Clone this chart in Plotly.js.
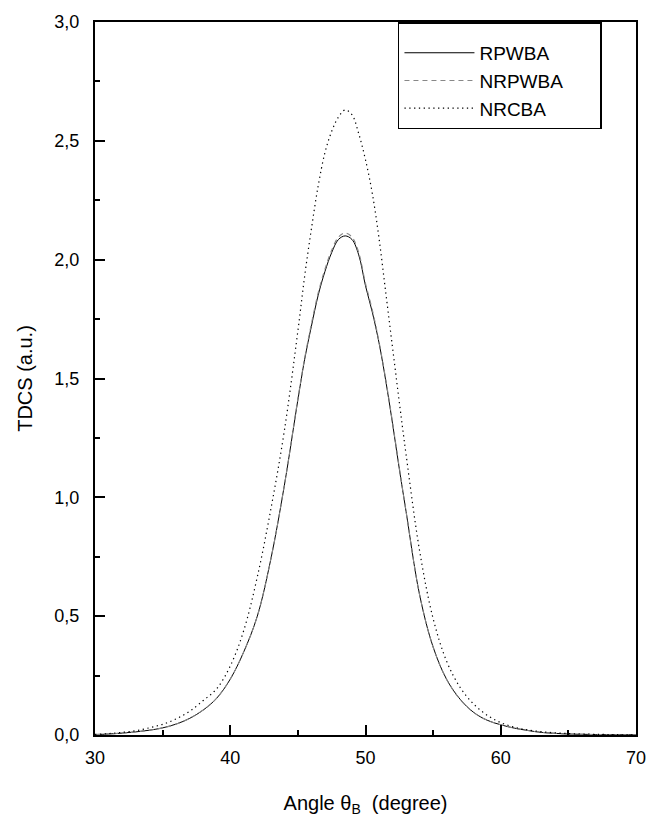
<!DOCTYPE html>
<html>
<head>
<meta charset="utf-8">
<script src="https://cdn.plot.ly/plotly-3.0.1.min.js"></script>
<style>html,body{margin:0;padding:0;background:#fff;}#chart{width:647px;height:817px;}</style>
</head>
<body>
<div id="chart"></div>
<script>
var angle = [30,31,32,33,34,35,36,37,38,39,40,41,42,43,44,45,45.5,46,46.5,47,47.5,48,48.5,49,49.5,50,50.5,51,51.5,52,52.5,53,54,55,56,57,58,59,60,61,62,63,64,65,66,67,68,69,70];
var rpwba = [0.002,0.004,0.008,0.013,0.020,0.030,0.046,0.070,0.105,0.155,0.235,0.35,0.50,0.74,1.05,1.41,1.58,1.72,1.85,1.95,2.03,2.085,2.10,2.085,2.02,1.89,1.78,1.65,1.49,1.31,1.12,0.94,0.59,0.37,0.234,0.15,0.095,0.062,0.043,0.029,0.019,0.011,0.007,0.004,0.003,0.002,0.001,0.001,0.001];
var nrpwba = [0.002,0.004,0.008,0.013,0.020,0.030,0.046,0.070,0.105,0.155,0.235,0.35,0.50,0.74,1.05,1.415,1.585,1.73,1.86,1.96,2.04,2.095,2.112,2.095,2.03,1.90,1.79,1.655,1.495,1.315,1.125,0.94,0.59,0.37,0.234,0.15,0.095,0.062,0.043,0.029,0.019,0.011,0.007,0.004,0.003,0.002,0.001,0.001,0.001];
var nrcba = [0.003,0.006,0.011,0.018,0.030,0.045,0.068,0.100,0.145,0.195,0.29,0.44,0.665,0.95,1.28,1.70,1.93,2.13,2.31,2.45,2.54,2.60,2.63,2.61,2.53,2.42,2.28,2.09,1.86,1.63,1.40,1.18,0.775,0.49,0.31,0.20,0.13,0.083,0.052,0.033,0.021,0.014,0.009,0.006,0.004,0.003,0.002,0.001,0.001];
var names = ['RPWBA', 'NRPWBA', 'NRCBA'];

var font = "Liberation Sans, Arial, Helvetica, sans-serif";
var pad = '\u00a0\u00a0\u00a0\u00a0\u00a0\u00a0';
var traces = [
  {x: angle, y: rpwba, name: names[0] + pad, type: 'scatter', mode: 'lines', legendgroup: 'a',
   line: {color: '#000', width: 1, shape: 'spline', smoothing: 1}},
  {x: angle, y: nrpwba, name: names[1] + pad, type: 'scatter', mode: 'lines', legendgroup: 'b',
   line: {color: '#888', width: 1.1, dash: '5px,4px', shape: 'spline', smoothing: 1}},
  {x: angle, y: nrcba, name: names[2] + pad, type: 'scatter', mode: 'lines', legendgroup: 'c',
   line: {color: '#000', width: 1.2, dash: '1.3px,3.5px', shape: 'spline', smoothing: 1}}
];
var layout = {
  width: 647, height: 817,
  margin: {l: 95, r: 11, t: 22, b: 82},
  paper_bgcolor: '#fff', plot_bgcolor: '#fff',
  separators: ',.',
  font: {family: font, size: 17, color: '#000'},
  showlegend: true,
  legend: {x: 0.56, y: 1, xanchor: 'left', yanchor: 'top', bgcolor: '#fff',
           bordercolor: '#000', borderwidth: 1.5, itemwidth: 70, tracegroupgap: 0,
           title: {text: '\u00a0', font: {family: font, size: 8}},
           font: {family: font, size: 19, color: '#000'}},
  xaxis: {range: [30, 70], dtick: 10, tick0: 30, ticks: 'inside', ticklen: 10, tickwidth: 2,
          tickcolor: '#000', showline: true, linecolor: '#000', linewidth: 2, mirror: true,
          showgrid: false, zeroline: false, ticklabelstandoff: 5,
          minor: {dtick: 5, tick0: 30, ticks: 'inside', ticklen: 5, tickwidth: 2, tickcolor: '#000', showgrid: false},
          tickfont: {family: font, size: 18},
          title: {text: 'Angle θ<sub>B</sub>\u00a0\u00a0(degree)', font: {family: font, size: 20}, standoff: 30}},
  yaxis: {range: [0, 3], dtick: 0.5, tick0: 0, tickformat: '.1f', ticks: 'inside', ticklen: 10, tickwidth: 2,
          tickcolor: '#000', showline: true, linecolor: '#000', linewidth: 2, mirror: true,
          showgrid: false, zeroline: false, ticklabelstandoff: 10,
          minor: {dtick: 0.25, tick0: 0, ticks: 'inside', ticklen: 5, tickwidth: 2, tickcolor: '#000', showgrid: false},
          tickfont: {family: font, size: 18},
          title: {text: 'TDCS (a.u.)', font: {family: font, size: 20}, standoff: 16}}
};
Plotly.newPlot('chart', traces, layout, {displayModeBar: false, staticPlot: true});
</script>
</body>
</html>
